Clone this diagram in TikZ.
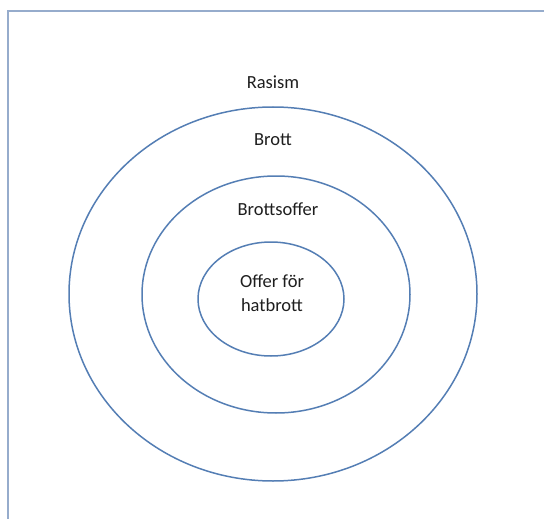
\documentclass[tikz,border=0pt]{standalone}
\usepackage{fontspec}
\setmainfont{Carlito}
\usepackage{tikz}

\definecolor{ringblue}{RGB}{84,126,180}
\definecolor{framegrey}{RGB}{150,172,204}
\definecolor{labelgrey}{RGB}{30,30,30}

\begin{document}
\begin{tikzpicture}[x=1pt, y=-1pt,
	ring/.style={draw=ringblue, line width=1.5pt},
	lbl/.style={text=labelgrey, font=\fontsize{18.5}{24}\selectfont, align=center, inner sep=0pt}]
	\useasboundingbox (0,0) rectangle (544,519);

	% frame, cut at the right and bottom
	\draw[framegrey, line width=2pt] (544,11) -- (8,11) -- (8,519);

	% rings
	\draw[ring] (273,294) ellipse [x radius=204, y radius=187];
	\draw[ring] (276,294.5) ellipse [x radius=134, y radius=118.5];
	\draw[ring] (271,299) ellipse [x radius=73, y radius=57];

	% labels
	\node[lbl] (rasism) at (273,82) {Rasism};
	\node[lbl] (brott) at (273,140) {Brott};
	\node[lbl] (offer) at (278,209) {Brottsoffer};
	\node[lbl] (hat) at (272,293) {Offer för\\hatbrott};
\end{tikzpicture}
\end{document}
